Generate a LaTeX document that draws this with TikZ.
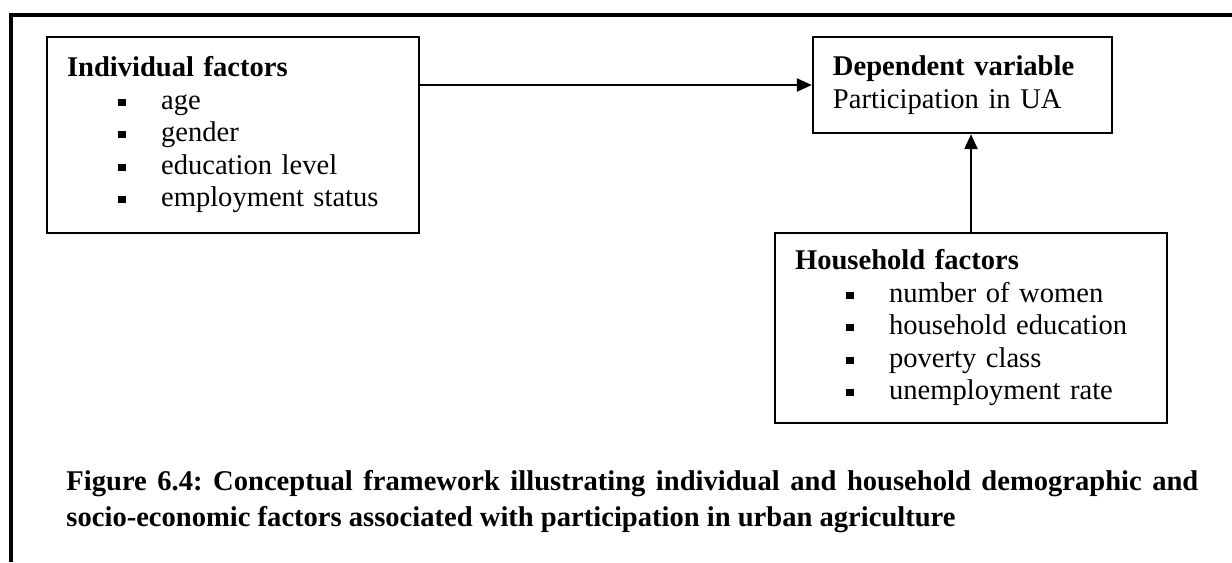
\documentclass[tikz,border=0pt]{standalone}
\usepackage{fontspec}
\setmainfont{Liberation Serif}
\usetikzlibrary{arrows.meta}
\frenchspacing

\newcommand{\sqitem}[1]{\makebox[39.5pt][l]{\hspace{21.6pt}\rule[1.5pt]{3pt}{3pt}}#1}

\tikzset{
  factorbox/.style={draw=black, line width=1pt, align=left, inner xsep=8.4pt, inner ysep=0pt,
    font=\fontsize{12}{13.65}\selectfont},
  link/.style={draw=black, line width=0.85pt, -{Triangle[length=6.3pt,width=5.5pt]}},
}

\begin{document}
\begin{tikzpicture}[x=0.42pt,y=-0.42pt]

% outer frame:
\useasboundingbox (0,0) rectangle (1232,562);
\draw[black,line width=1.3pt] (1232,15) -- (11,15) -- (11,562);

% boxes:
\node[factorbox, text width=139.4pt, minimum height=82.3pt] (indiv) at (233,135) {\textbf{Individual factors}\\
\sqitem{age}\\
\sqitem{gender}\\
\sqitem{education level}\\
\sqitem{employment status}};
\node[factorbox, text width=108.8pt, minimum height=40.3pt] (depvar) at (962.5,85) {\textbf{Dependent variable}\\
Participation in UA};
\node[factorbox, text width=147.8pt, minimum height=79.8pt] (house) at (971,328) {\textbf{Household factors}\\
\sqitem{number of women}\\
\sqitem{household education}\\
\sqitem{poverty class}\\
\sqitem{unemployment rate}};

\draw[link] (indiv.east |- depvar.west) -- (depvar.west);
\draw[link] (house.north) -- (house.north |- depvar.south);

\node[anchor=base west, text width=475.4pt, align=justify, inner sep=0pt,
  font=\bfseries\fontsize{12}{15.5}\selectfont] (caption) at (66,490) {Figure 6.4: Conceptual framework illustrating individual and household demographic and\linebreak socio-economic factors associated with participation in urban agriculture};

\end{tikzpicture}
\end{document}
